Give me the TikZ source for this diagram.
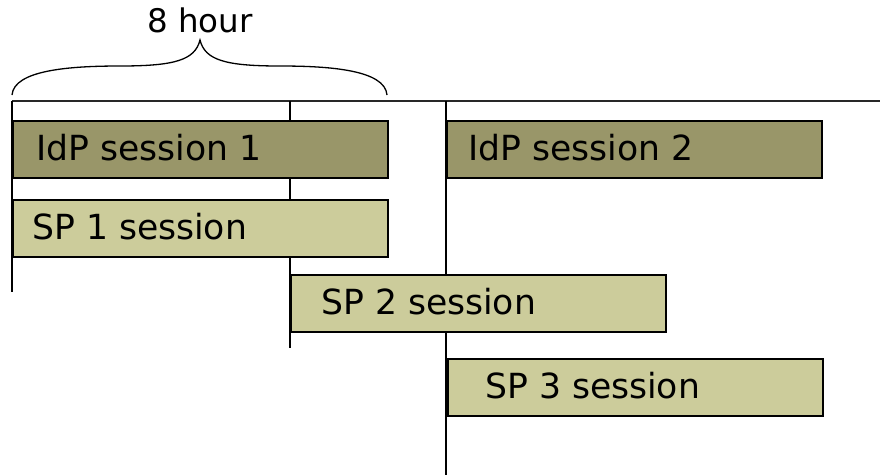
\documentclass[tikz,border=0pt]{standalone}
\usepackage{fontspec}
\setmainfont{DejaVu Sans}
\usepackage{tikz}
\definecolor{idpcol}{RGB}{153,150,105}
\definecolor{spcol}{RGB}{204,204,155}
\definecolor{axis}{RGB}{40,40,40}
\usetikzlibrary{positioning}
\tikzset{%
  session/.style={draw, line width=1.8pt, rectangle, anchor=north west, inner sep=0pt,
    minimum width=375pt, minimum height=57pt},% session bar
  idp/.style={session, fill=idpcol},% identity provider session
  sp/.style={session, fill=spcol},% service provider session
  label/.style={inner sep=0pt, anchor=west, yshift=2pt, font=\fontsize{34.6pt}{40pt}\selectfont},% text in bar
  tick/.style={line width=1.8pt, black}% vertical time mark
}

\begin{document}
\begin{tikzpicture}[x=1pt, y=-1pt]
\useasboundingbox (0,0) rectangle (880,475);

% time line and marks
\coordinate (t0) at (12,101);
\coordinate (t1) at (290,101);
\coordinate (t2) at (446,101);
\coordinate (tend) at (880,101);
\coordinate (b0) at (12,292);
\coordinate (b1) at (290,348);
\coordinate (b2) at (446,475);
\draw[line width=1.4pt, axis] (t0) -- (tend);
\draw[tick] (t0) -- (b0);
\draw[tick] (t1) -- (b1);
\draw[tick] (t2) -- (b2);

% sessions
\node[idp] (idp1) at (12,120) {};
\node[sp]  (sp1)  at (12,199) {};
\node[idp] (idp2) at (446,120) {};
\node[sp]  (sp2)  at (290,274) {};
\node[sp]  (sp3)  at (447,358) {};

\node[label, right=24pt of idp1.west] (lidp1) {IdP session 1};
\node[label, right=20pt of sp1.west]  (lsp1)  {SP 1 session};
\node[label, right=22pt of idp2.west] (lidp2) {IdP session 2};
\node[label, right=31pt of sp2.west]  (lsp2)  {SP 2 session};
\node[label, right=38pt of sp3.west]  (lsp3)  {SP 3 session};

% brace over the first 8 hours
\coordinate (bl) at (12,95);
\coordinate (tip) at (200,40);
\coordinate (br) at (387,95);
\draw[line width=1.3pt] (bl) .. controls (14,70) and (70,66) .. (120,66)
  .. controls (175,66) and (195,60) .. (tip)
  .. controls (205,60) and (225,66) .. (280,66)
  .. controls (330,66) and (385,70) .. (br);
\node[inner sep=0pt, above=7pt of tip, font=\fontsize{32.5pt}{38pt}\selectfont] (hours) {8 hour};
\end{tikzpicture}
\end{document}
